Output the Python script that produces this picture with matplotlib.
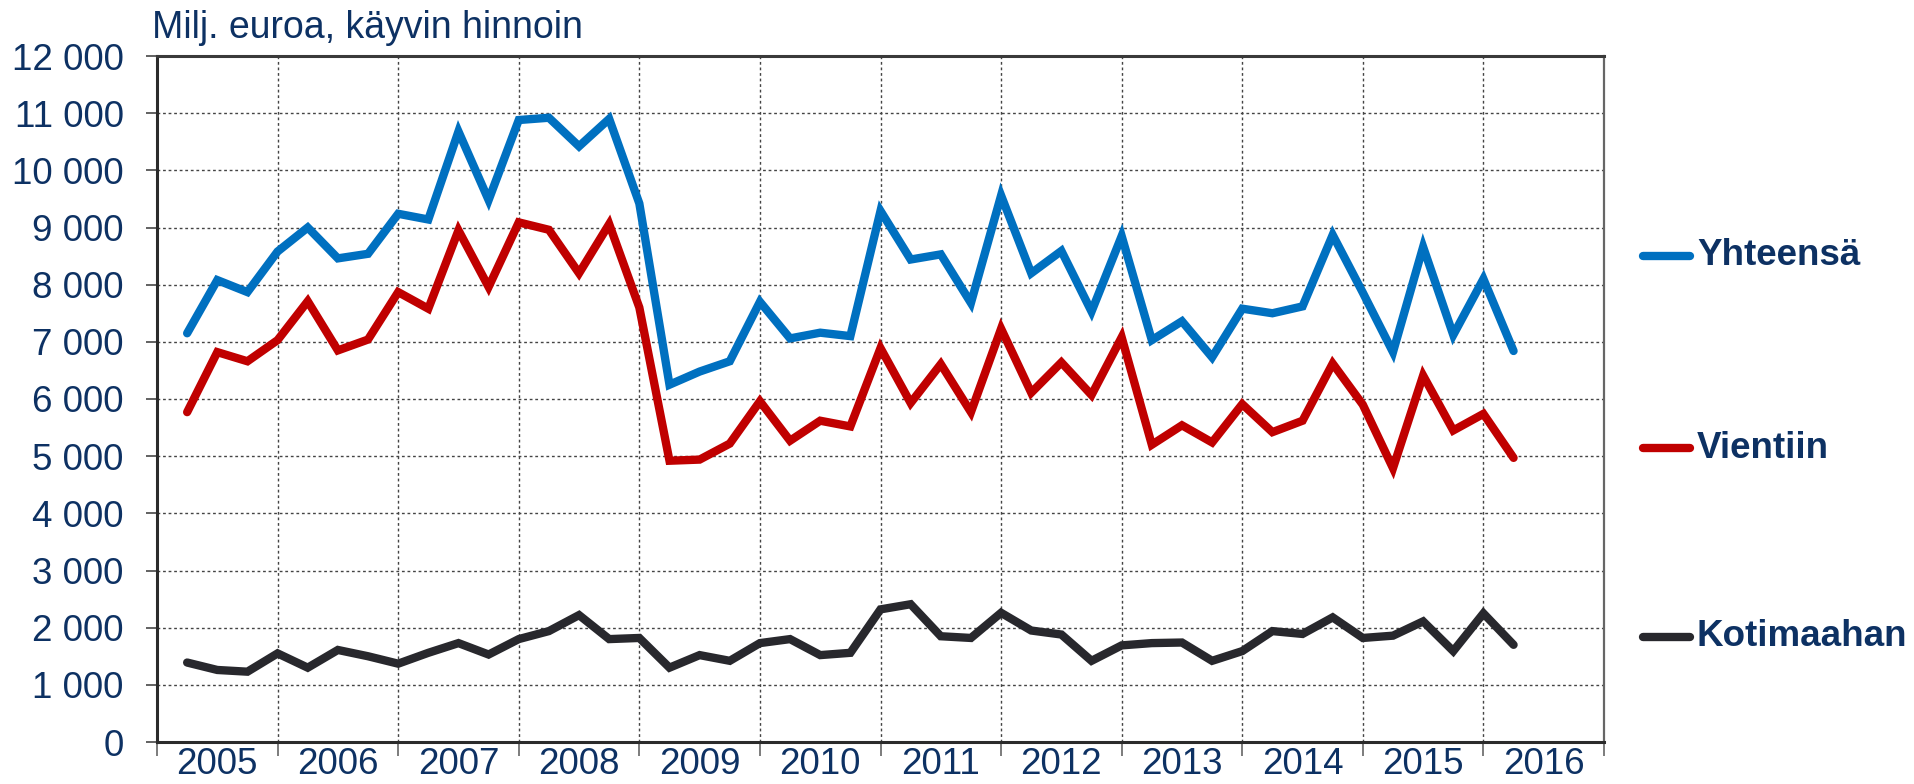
import matplotlib
matplotlib.use("Agg")
import matplotlib.pyplot as plt
from matplotlib.lines import Line2D

plt.rcParams['font.family'] = ['Liberation Sans', 'DejaVu Sans']

years = ["2005", "2006", "2007", "2008", "2009", "2010", "2011", "2012",
         "2013", "2014", "2015", "2016"]

yhteensa = [7150, 8080, 7870, 8580, 9000, 8460, 8540, 9240, 9140, 10680, 9480, 10880,
            10920, 10420, 10900, 9420, 6250, 6480, 6660, 7700, 7060, 7160, 7100, 9290,
            8440, 8530, 7680, 9560, 8200, 8590, 7530, 8850, 7030, 7360, 6730, 7580,
            7500, 7620, 8870, 7860, 6820, 8660, 7120, 8100, 6840]
vientiin = [5770, 6820, 6660, 7030, 7710, 6850, 7040, 7870, 7580, 8950, 7960, 9090,
            8960, 8200, 9060, 7600, 4920, 4940, 5220, 5960, 5270, 5620, 5520, 6890,
            5930, 6610, 5770, 7230, 6110, 6640, 6070, 7080, 5200, 5540, 5240, 5910,
            5420, 5620, 6620, 5900, 4790, 6410, 5450, 5740, 4970]
kotimaahan = [1390, 1260, 1230, 1550, 1300, 1610, 1500, 1370, 1560, 1730, 1530, 1800,
              1940, 2220, 1800, 1820, 1300, 1520, 1420, 1730, 1800, 1520, 1560, 2320,
              2410, 1850, 1820, 2260, 1950, 1880, 1420, 1690, 1730, 1740, 1420, 1590,
              1940, 1890, 2180, 1820, 1860, 2110, 1590, 2250, 1700]

series_names = ["Yhteensä", "Vientiin", "Kotimaahan"]
colors = ["#0070C0", "#C00000", "#28282D"]
label_color = "#0D3163"

fig = plt.figure(figsize=(19.15, 7.84), dpi=100)
ax = fig.add_axes([157/1915, 1-742/784, (1604-157)/1915, (742-56)/784])

x = list(range(1, len(yhteensa) + 1))
for vals, c in zip([yhteensa, vientiin, kotimaahan], colors):
    ax.plot(x, vals, color=c, lw=6.0, solid_joinstyle='miter', solid_capstyle='round', zorder=3)

ax.set_xlim(0, 48)
ax.set_ylim(0, 12000)
ax.set_yticks(range(0, 12001, 1000))
ax.set_yticklabels([f"{v:,}".replace(",", " ") for v in range(0, 12001, 1000)])
ax.set_xticks(range(0, 49, 4))
ax.set_xticklabels([])
ax.set_xticks([2 + 4*i for i in range(len(years))], minor=True)
ax.set_xticklabels(years, minor=True)

ax.tick_params(axis='y', which='major', length=8, width=1.3, color='#555555',
               labelsize=26.5, labelcolor=label_color, pad=16, direction='out')
ax.tick_params(axis='x', which='major', length=10, width=1.2, color='#666666', direction='out')
ax.tick_params(axis='x', which='minor', length=0, labelsize=26.5, labelcolor=label_color, pad=3.5)

ax.grid(True, which='major', axis='both', linestyle=(0, (2, 2)), color='#444444', lw=1.0, zorder=1)
ax.set_axisbelow(True)

for side in ['left', 'bottom']:
    ax.spines[side].set_color('#2b2b2b')
    ax.spines[side].set_linewidth(2.2)
ax.spines['top'].set_color('#3a3a3a')
ax.spines['top'].set_linewidth(2.2)
ax.spines['right'].set_color('#666666')
ax.spines['right'].set_linewidth(1.6)

fig.text(152/1915, 1-38/784, "Milj. euroa, käyvin hinnoin", fontsize=27,
         color=label_color, va='baseline', ha='left')

legend_y = [256, 448, 637]
for name, c, yy in zip(series_names, colors, legend_y):
    fy = 1 - yy/784
    fig.add_artist(Line2D([1643/1915, 1690/1915], [fy, fy], color=c, lw=6.0,
                          solid_capstyle='round', transform=fig.transFigure))
    fig.text(1697/1915, fy, name, fontsize=26.5, fontweight='bold', color=label_color,
             va='center', ha='left')

fig.savefig("out.png", dpi=100)
